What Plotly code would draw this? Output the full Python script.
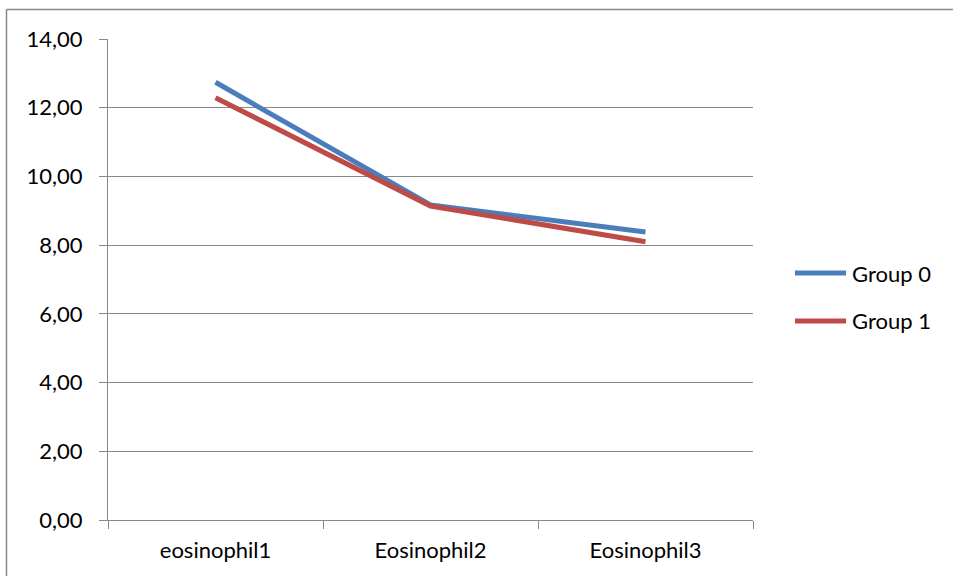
import plotly.graph_objects as go

categories = ["eosinophil1", "Eosinophil2", "Eosinophil3"]
series_names = ["Group 0", "Group 1"]
group0 = [12.74, 9.17, 8.38]
group1 = [12.29, 9.14, 8.10]
y_ticks = [0, 2, 4, 6, 8, 10, 12, 14]
y_ticktext = ["0,00", "2,00", "4,00", "6,00", "8,00", "10,00", "12,00", "14,00"]
colors = ["#4A7EBB", "#BE4B48"]

W, H = 954, 576
L, R, T, B = 108, 753, 39, 520

def px(x):
    return (x - L) / (R - L)

def py(y):
    return (B - y) / (B - T)

FONT = "Lato"
GRAY = "#888888"
FS = 22

fig = go.Figure()
for name, vals, c in zip(series_names, [group0, group1], colors):
    fig.add_trace(go.Scatter(x=categories, y=vals, mode="lines", name=name,
                             line=dict(color=c, width=5), showlegend=False))

bx = round(px(6.5), 4)
by = round(py(9.5), 4)
shapes = [
    dict(type="line", xref="paper", yref="paper", x0=bx, x1=1.31, y0=by, y1=by,
         line=dict(color=GRAY, width=1.5)),
    dict(type="line", xref="paper", yref="paper", x0=bx, x1=bx, y0=by, y1=-0.12,
         line=dict(color=GRAY, width=1.5)),
]
annotations = []
leg_y = [273, 321]
for name, c, yy in zip(series_names, colors, leg_y):
    shapes.append(dict(type="line", xref="paper", yref="paper",
                       x0=px(795), x1=px(846), y0=py(yy), y1=py(yy),
                       line=dict(color=c, width=5)))
    annotations.append(dict(text=name, xref="paper", yref="paper", x=px(850), y=py(yy),
                            xanchor="left", yanchor="middle", showarrow=False,
                            font=dict(family=FONT, size=FS, color="#000000")))

fig.update_layout(
    width=W, height=H,
    margin=dict(l=L, r=W - R, t=T, b=H - B),
    paper_bgcolor="white", plot_bgcolor="white",
    font=dict(family=FONT, size=FS, color="#000000"),
    shapes=shapes, annotations=annotations,
    xaxis=dict(type="category", tickson="boundaries", ticks="outside", ticklen=8,
               tickcolor=GRAY, tickwidth=1, showgrid=False, showline=True,
               linecolor=GRAY, linewidth=1, range=[-0.5, 2.5], ticklabelstandoff=11,
               tickfont=dict(family=FONT, size=FS, color="#000000")),
    yaxis=dict(range=[0, 14], tickvals=y_ticks, ticktext=y_ticktext, ticks="outside",
               ticklen=8, tickcolor=GRAY, tickwidth=1, showgrid=True, gridcolor=GRAY,
               gridwidth=1, showline=True, linecolor=GRAY, linewidth=1, zeroline=False,
               ticklabelstandoff=12,
               tickfont=dict(family=FONT, size=FS, color="#000000")),
)
fig.write_html("out.html")
